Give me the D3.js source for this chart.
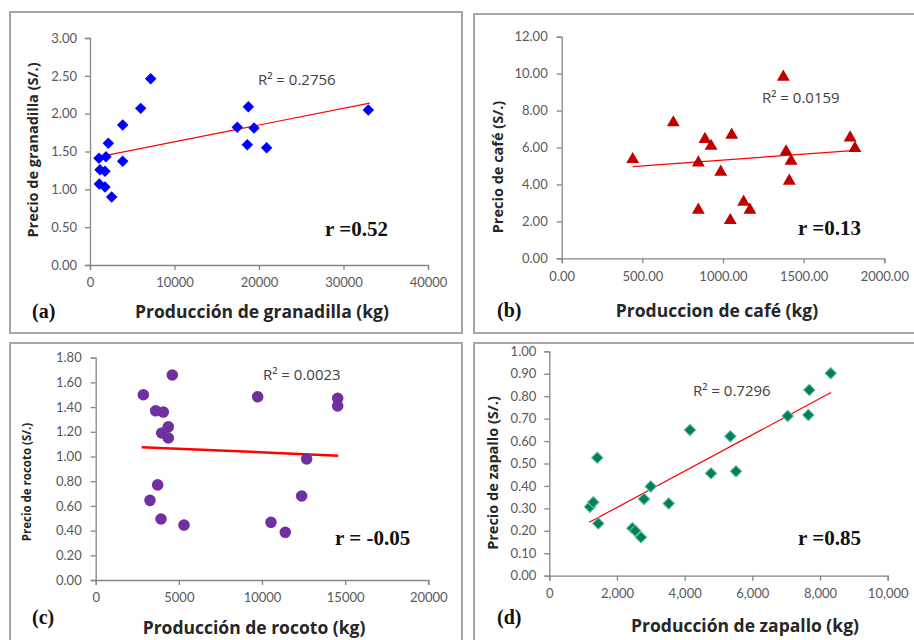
<!DOCTYPE html>
<html lang="es">
<head>
  <meta charset="utf-8">
  <title>Precio vs produccion</title>
  <script src="https://d3js.org/d3.v7.min.js"></script>
  <style>
    body { margin: 0; background: #fff; }
    text { font-family: "Open Sans", Lato, sans-serif; }
  </style>
</head>
<body>
  <div id="chart"></div>
  <script>
    // (a) granadilla
    var granadillaX = [1065, 2170, 1890, 1180, 1775, 1100, 1775, 2565, 3870, 3870, 6000, 7180, 17430, 18740, 18620, 19410, 20900, 32940];
    var granadillaY = [1.41, 1.61, 1.43, 1.26, 1.24, 1.07, 1.03, 0.90, 1.37, 1.85, 2.07, 2.46, 1.82, 2.09, 1.59, 1.81, 1.55, 2.05];
    var granadillaTrend = [[1000, 1.43], [33100, 2.14]];
    var granadillaXTicks = [0, 10000, 20000, 30000, 40000];
    var granadillaYTicks = [0, 0.5, 1, 1.5, 2, 2.5, 3];

    // (b) cafe
    var cafeX = [440, 692, 888, 926, 1054, 847, 986, 847, 1045, 1128, 1167, 1374, 1391, 1422, 1411, 1788, 1818];
    var cafeY = [5.41, 7.40, 6.50, 6.13, 6.73, 5.23, 4.73, 2.67, 2.11, 3.10, 2.67, 9.87, 5.83, 5.32, 4.24, 6.58, 6.01];
    var cafeTrend = [[440, 4.96], [1843, 5.86]];
    var cafeXTicks = [0, 500, 1000, 1500, 2000];
    var cafeYTicks = [0, 2, 4, 6, 8, 10, 12];

    // (c) rocoto
    var rocotoX = [2862, 4606, 3607, 4065, 4366, 3968, 4366, 3727, 3265, 3927, 5310, 9740, 14550, 14550, 12685, 12385, 10540, 11400];
    var rocotoY = [1.50, 1.66, 1.37, 1.36, 1.24, 1.19, 1.15, 0.77, 0.645, 0.494, 0.445, 1.484, 1.471, 1.409, 0.98, 0.68, 0.467, 0.386];
    var rocotoTrend = [[2765, 1.075], [14585, 1.007]];
    var rocotoXTicks = [0, 5000, 10000, 15000, 20000];
    var rocotoYTicks = [0, 0.2, 0.4, 0.6, 0.8, 1.0, 1.2, 1.4, 1.6, 1.8];

    // (d) zapallo
    var zapalloX = [1203, 1300, 1418, 1448, 2453, 2540, 2710, 2798, 2996, 3528, 4158, 4778, 5349, 5517, 7045, 7654, 7683, 8316];
    var zapalloY = [0.307, 0.327, 0.526, 0.233, 0.212, 0.200, 0.171, 0.342, 0.398, 0.322, 0.649, 0.456, 0.621, 0.465, 0.712, 0.716, 0.828, 0.902];
    var zapalloTrend = [[1182, 0.238], [8325, 0.816]];
    var zapalloXTicks = [0, 2000, 4000, 6000, 8000, 10000];
    var zapalloYTicks = [0, 0.1, 0.2, 0.3, 0.4, 0.5, 0.6, 0.7, 0.8, 0.9, 1.0];

    var svg = d3.select('#chart').append('svg')
      .attr('width', 914)
      .attr('height', 640);

    var diamond = d3.symbol().type(d3.symbolSquare).size(66);
    var triangle = d3.symbol().type(d3.symbolTriangle).size(72);
    var circle = d3.symbol().type(d3.symbolCircle).size(105);

    function drawPanel(p) {
      // panel frame
      svg.append('rect')
        .attr('x', p.frame[0]).attr('y', p.frame[1])
        .attr('width', p.frame[2]).attr('height', p.frame[3])
        .attr('fill', 'none').attr('stroke', '#a6a6a6').attr('stroke-width', 2);

      var x = d3.scaleLinear().domain(d3.extent(p.xTicks)).range([p.left, p.right]);
      var y = d3.scaleLinear().domain(d3.extent(p.yTicks)).range([p.bottom, p.top]);

      var g = svg.append('g');

      var xAxis = g.append('g')
        .attr('transform', 'translate(0,' + p.bottom + ')')
        .call(d3.axisBottom(x).tickValues(p.xTicks).tickFormat(p.xFormat).tickSize(5).tickPadding(8));
      var yAxis = g.append('g')
        .attr('transform', 'translate(' + p.left + ',0)')
        .call(d3.axisLeft(y).tickValues(p.yTicks).tickFormat(d3.format('.2f')).tickSize(5).tickPadding(p.yPad));

      [xAxis, yAxis].forEach(function(a) {
        a.select('.domain').attr('stroke', '#868686').attr('stroke-width', 1.3);
        a.selectAll('.tick line').attr('stroke', '#868686').attr('stroke-width', 1.3);
        a.selectAll('.tick text')
          .attr('fill', '#595959')
          .style('font-family', 'Lato, sans-serif')
          .style('font-size', '13px');
      });

      // trend line
      g.append('line')
        .attr('x1', x(p.trend[0][0])).attr('y1', y(p.trend[0][1]))
        .attr('x2', x(p.trend[1][0])).attr('y2', y(p.trend[1][1]))
        .attr('stroke', '#ff0000').attr('stroke-width', p.trendW);

      // points
      var pts = p.xs.map(function(v, i) { return [v, p.ys[i]]; });
      g.selectAll('.pt').data(pts).enter().append('path')
        .attr('class', 'pt')
        .attr('d', p.symbol)
        .attr('transform', function(d) {
          return 'translate(' + [x(d[0]), y(d[1]) + (p.dy || 0)] + ')' + (p.rotate ? ' rotate(45)' : '');
        })
        .attr('fill', p.color)
        .attr('stroke', p.edge || 'none')
        .attr('stroke-width', 1);

      // labels
      g.append('text')
        .attr('x', p.r2Pos[0]).attr('y', p.r2Pos[1])
        .attr('fill', '#404040').style('font-size', '15px')
        .text(p.r2);
      g.append('text')
        .attr('x', p.rPos[0]).attr('y', p.rPos[1])
        .attr('fill', '#111')
        .style('font-family', '"Liberation Serif", serif')
        .style('font-weight', 'bold').style('font-size', '21px')
        .text(p.r);
      g.append('text')
        .attr('x', p.tagPos[0]).attr('y', p.tagPos[1])
        .attr('fill', '#111')
        .style('font-family', '"Liberation Serif", serif')
        .style('font-weight', 'bold').style('font-size', '20px')
        .text(p.tag);
      g.append('text')
        .attr('x', p.xTitlePos[0]).attr('y', p.xTitlePos[1])
        .attr('text-anchor', 'middle')
        .attr('fill', '#262626')
        .style('font-weight', 'bold').style('font-size', '17.5px')
        .text(p.xTitle);
      g.append('text')
        .attr('transform', 'translate(' + p.yTitlePos + ') rotate(-90)')
        .attr('text-anchor', 'middle')
        .attr('dy', '0.35em')
        .attr('fill', '#262626')
        .style('font-weight', 'bold').style('font-size', p.yTitleSize + 'px')
        .text(p.yTitle);
    }

    drawPanel({
      frame: [10, 12, 452, 321],
      left: 90, right: 428, top: 38, bottom: 265, yPad: 8,
      xs: granadillaX, ys: granadillaY, trend: granadillaTrend, trendW: 1.2,
      xTicks: granadillaXTicks, yTicks: granadillaYTicks, xFormat: d3.format('d'),
      symbol: diamond, rotate: true, color: '#0000ff',
      r2: 'R² = 0.2756', r2Pos: [258, 85],
      r: 'r =0.52', rPos: [325, 236],
      tag: '(a)', tagPos: [32, 318],
      xTitle: 'Producción de granadilla (kg)', xTitlePos: [262, 318],
      yTitle: 'Precio de granadilla (S/.)', yTitlePos: [33, 150], yTitleSize: 14.5
    });

    drawPanel({
      frame: [474, 14, 460, 319],
      left: 561.7, right: 884.3, top: 36.7, bottom: 258.3, yPad: 9,
      xs: cafeX, ys: cafeY, trend: cafeTrend, trendW: 1.2,
      xTicks: cafeXTicks, yTicks: cafeYTicks, xFormat: d3.format('.2f'),
      symbol: triangle, color: '#c00000', dy: 1,
      r2: 'R² = 0.0159', r2Pos: [762, 103],
      r: 'r =0.13', rPos: [798, 235],
      tag: '(b)', tagPos: [497, 317],
      xTitle: 'Produccion de café (kg)', xTitlePos: [717, 317],
      yTitle: 'Precio de café (S/.)', yTitlePos: [498, 167], yTitleSize: 14.5
    });

    drawPanel({
      frame: [10, 343, 452, 320],
      left: 95.7, right: 428.3, top: 357.7, bottom: 580, yPad: 9,
      xs: rocotoX, ys: rocotoY, trend: rocotoTrend, trendW: 2.5,
      xTicks: rocotoXTicks, yTicks: rocotoYTicks, xFormat: d3.format('d'),
      symbol: circle, color: '#7030a0',
      r2: 'R² = 0.0023', r2Pos: [263, 380],
      r: 'r = -0.05', rPos: [335, 545],
      tag: '(c)', tagPos: [32, 624],
      xTitle: 'Producción de rocoto (kg)', xTitlePos: [254, 634],
      yTitle: 'Precio de rocoto (S/.)', yTitlePos: [27, 482], yTitleSize: 11.5
    });

    drawPanel({
      frame: [474, 343, 460, 320],
      left: 549.3, right: 887.7, top: 351.3, bottom: 575.7, yPad: 8,
      xs: zapalloX, ys: zapalloY, trend: zapalloTrend, trendW: 1.2,
      xTicks: zapalloXTicks, yTicks: zapalloYTicks, xFormat: d3.format(','),
      symbol: diamond, rotate: true, color: '#00805a', edge: '#6cc0a8',
      r2: 'R² = 0.7296', r2Pos: [693, 396],
      r: 'r =0.85', rPos: [798, 545],
      tag: '(d)', tagPos: [497, 624],
      xTitle: 'Producción de zapallo (kg)', xTitlePos: [745, 632],
      yTitle: 'Precio de zapallo (S/.)', yTitlePos: [493, 473], yTitleSize: 14.5
    });
  </script>
</body>
</html>
